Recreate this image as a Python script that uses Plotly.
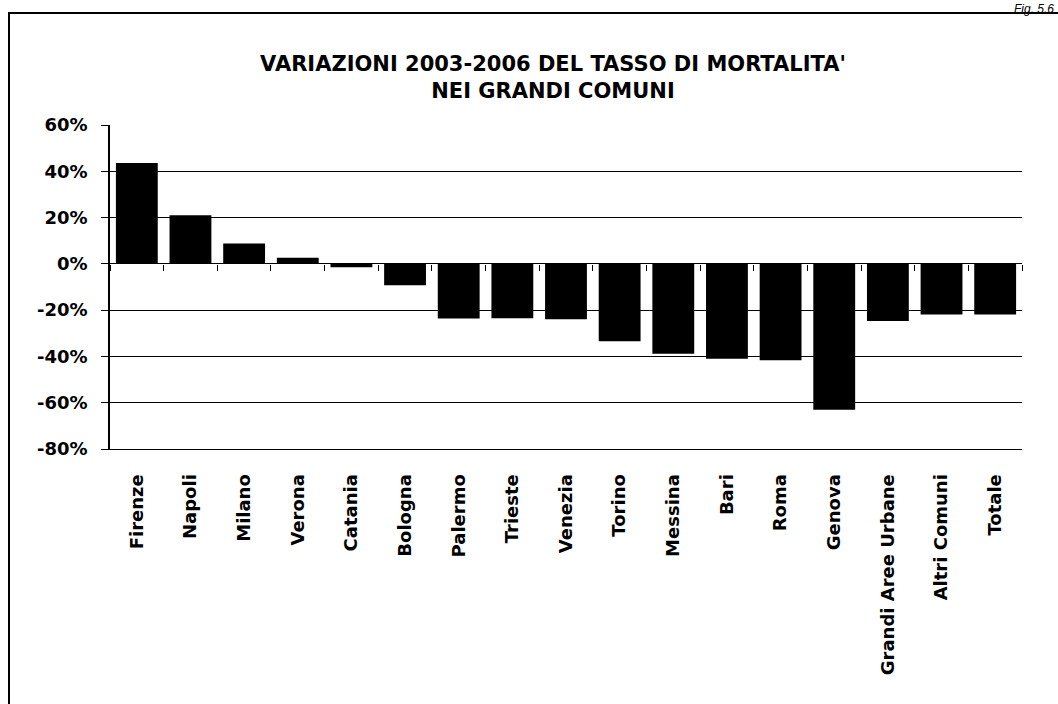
import plotly.graph_objects as go

categories = ["Firenze", "Napoli", "Milano", "Verona", "Catania", "Bologna", "Palermo",
              "Trieste", "Venezia", "Torino", "Messina", "Bari", "Roma", "Genova",
              "Grandi Aree Urbane", "Altri Comuni", "Totale"]
values = [43.6, 21.0, 8.8, 2.6, -1.5, -9.2, -23.6, -23.5, -23.9, -33.4, -38.8,
          -41.0, -41.6, -63.0, -24.7, -21.9, -21.9]
y_ticks = [-80, -60, -40, -20, 0, 20, 40, 60]
y_ticktext = [f"{v}%" for v in y_ticks]

title_text = "VARIAZIONI 2003-2006 DEL TASSO DI MORTALITA'<br>NEI GRANDI COMUNI"
fig_label = "Fig. 5.6"

FONT = "DejaVu Sans"
W, H = 1058, 704
L, R, T, B = 110, 36, 125, 255
pw = W - L - R
ph = H - T - B
ymin, ymax = -80, 60

def px_x(p):
    return (p - L) / pw

def px_y(p):
    return (H - B - p) / ph

fig = go.Figure()
fig.add_trace(go.Bar(x=categories, y=values, marker=dict(color="black", line=dict(width=0)),
                     width=0.78, showlegend=False, hoverinfo="x+y"))
# helper trace on the zero-line axis so that boundary ticks are drawn
fig.add_trace(go.Scatter(x=categories, y=[0] * len(categories), xaxis="x2", mode="markers",
                         marker=dict(opacity=0), showlegend=False, hoverinfo="skip"))

fig.update_layout(
    width=W, height=H,
    margin=dict(l=L, r=R, t=T, b=B, pad=0),
    paper_bgcolor="white", plot_bgcolor="white",
    font=dict(family=FONT, color="black"),
    xaxis=dict(type="category", categoryorder="array", categoryarray=categories,
               range=[-0.5, len(categories) - 0.5],
               showline=True, linecolor="black", linewidth=1, ticks="",
               tickangle=-90, showgrid=False, zeroline=False,
               tickfont=dict(family=FONT, size=18, color="black", weight="bold"),
               ticklabelstandoff=17),
    xaxis2=dict(type="category", categoryorder="array", categoryarray=categories,
                range=[-0.5, len(categories) - 0.5], overlaying="x", anchor="free",
                position=(0 - ymin) / (ymax - ymin), side="bottom",
                ticks="outside", ticklen=6, tickwidth=1, tickcolor="black",
                tickson="boundaries", showticklabels=False, showline=False,
                showgrid=False, zeroline=False),
    yaxis=dict(range=[ymin, ymax], tickvals=y_ticks, ticktext=y_ticktext,
               showgrid=True, gridcolor="black", gridwidth=1,
               zeroline=True, zerolinecolor="black", zerolinewidth=1,
               showline=True, linecolor="black", linewidth=1.5,
               ticks="outside", ticklen=7, tickcolor="black",
               tickfont=dict(family=FONT, size=18, color="black", weight="bold"),
               ticklabelstandoff=10),
    title=dict(text=title_text, x=(553 - L) / pw, xref="paper", xanchor="center",
               y=1 - 71 / H, yanchor="middle",
               font=dict(family=FONT, size=21, color="black", weight="bold")),
    bargap=0.22,
)

# outer frame of the figure
fig.add_shape(type="rect", xref="paper", yref="paper",
              x0=px_x(9), x1=px_x(1070), y0=px_y(715), y1=px_y(13),
              line=dict(color="black", width=2), fillcolor="rgba(0,0,0,0)", layer="below")

fig.add_annotation(text=fig_label, xref="paper", yref="paper", x=px_x(1056), y=px_y(0),
                   xanchor="right", yanchor="top", showarrow=False,
                   font=dict(family="Liberation Sans", size=12, color="black", style="italic"))

fig.write_html("out.html", config={"displayModeBar": False},
               post_script="document.body.style.margin='0';")
